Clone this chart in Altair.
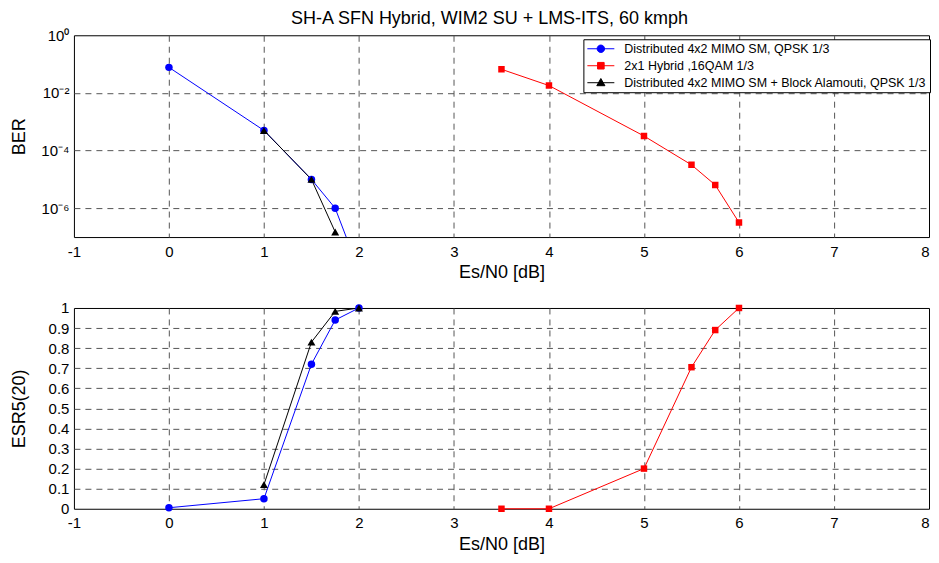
import altair as alt
import pandas as pd

# ---------------- data ----------------
names = [
    "Distributed 4x2 MIMO SM, QPSK 1/3",
    "2x1 Hybrid ,16QAM 1/3",
    "Distributed 4x2 MIMO SM + Block Alamouti, QPSK 1/3",
]
colors = ["#0000ff", "#ff0000", "#000000"]
marker_shapes = ["circle", "square", "triangle-up"]
marker_sizes = [56, 42, 64]

# BER panel
ber_snr_s1 = [0, 1, 1.5, 1.75, 2]
ber_s1 = [7.7e-2, 5.0e-4, 1.0e-5, 1.0e-6, 7.0e-9]
ber_snr_s2 = [3.5, 4, 5, 5.5, 5.75, 6]
ber_s2 = [6.6e-2, 1.8e-2, 3.2e-4, 3.2e-5, 6.4e-6, 3.2e-7]
ber_snr_s3 = [1, 1.5, 1.75]
ber_s3 = [5.0e-4, 1.0e-5, 1.5e-7]

# ESR5(20) panel
esr_snr_s1 = [0, 1, 1.5, 1.75, 2]
esr_s1 = [0.005, 0.05, 0.72, 0.94, 1.0]
esr_snr_s2 = [3.5, 4, 5, 5.5, 5.75, 6]
esr_s2 = [0.0, 0.0, 0.2, 0.705, 0.89, 1.0]
esr_snr_s3 = [1, 1.5, 1.75, 2]
esr_s3 = [0.12, 0.83, 0.983, 1.0]

x_domain = [-1, 8]
x_ticks = [-1, 0, 1, 2, 3, 4, 5, 6, 7, 8]
ber_domain = [1e-7, 1]
ber_ticks = [1e-6, 1e-4, 1e-2, 1]
ber_tick_labels = ["10⁻⁶", "10⁻⁴", "10⁻²", "10⁰"]
esr_domain = [0, 1]
esr_ticks = [0, 0.1, 0.2, 0.3, 0.4, 0.5, 0.6, 0.7, 0.8, 0.9, 1]

title_text = "SH-A SFN Hybrid, WIM2 SU + LMS-ITS, 60 kmph"
x_title = "Es/N0 [dB]"

# legend glyphs: a short line with the marker in the middle
# (unit = sqrt(symbolSize)/2 = 6 px, so the line is 27 px long)
legend_paths = [
    "M-2.25,0H2.25M0.62,0A0.62,0.62,0,1,1,-0.62,0A0.62,0.62,0,1,1,0.62,0Z",
    "M-2.25,0H2.25M-0.55,-0.55H0.55V0.55H-0.55Z",
    "M-2.25,0H2.25M0,-0.7L0.68,0.5H-0.68Z",
]

FONT = "Liberation Sans"
PLOT_W = 856


def long_frame(xs_list, ys_list):
    rows = []
    for name, xs, ys in zip(names, xs_list, ys_list):
        for xv, yv in zip(xs, ys):
            rows.append({"series": name, "snr": xv, "val": yv})
    return pd.DataFrame(rows)


ber_df = long_frame([ber_snr_s1, ber_snr_s2, ber_snr_s3], [ber_s1, ber_s2, ber_s3])
esr_df = long_frame([esr_snr_s1, esr_snr_s2, esr_snr_s3], [esr_s1, esr_s2, esr_s3])

grid_kw = dict(grid=True, gridColor="#555555", gridDash=[6, 5], gridWidth=1)


def edge_test(lo, hi, log=False):
    if log:
        return f"datum.value <= {lo * 1.01} || datum.value >= {hi * 0.99}"
    return f"datum.value <= {lo + 1e-9} || datum.value >= {hi - 1e-9}"


def panel(df, y_field_scale, y_axis, x_title_pad, clip, with_legend, height):
    x = alt.X(
        "snr:Q",
        scale=alt.Scale(domain=x_domain, nice=False, zero=False),
        axis=alt.Axis(
            values=x_ticks,
            labelExpr="replace(datum.label, '−', '-')",
            labelAlign={"condition": {"test": f"datum.value >= {x_domain[1]}", "value": "right"}, "value": "center"},
            title=x_title,
            labelPadding=7,
            titlePadding=x_title_pad,
            labelFlush=False,
            labelOverlap=False,
            gridOpacity={"condition": {"test": edge_test(x_domain[0], x_domain[1]), "value": 0}, "value": 1},
            **grid_kw,
        ),
    )
    y = alt.Y("val:Q", scale=y_field_scale, axis=y_axis)
    base = alt.Chart(df)

    def color_enc():
        if with_legend:
            return alt.Color("series:N", scale=alt.Scale(domain=names, range=colors))
        return alt.Color("series:N", scale=alt.Scale(domain=names, range=colors), legend=None)

    layers = []
    if with_legend:
        lg = alt.Legend(
            title=None,
            orient="none",
            legendX=PLOT_W - 346,
            legendY=4,
            padding=3,
            rowPadding=4,
            strokeColor="black",
            fillColor="white",
            cornerRadius=0,
            symbolSize=144,
            symbolOffset=8,
            symbolStrokeWidth=1,
            symbolOpacity=1,
            labelOffset=17,
            labelFont=FONT,
            labelFontSize=12.5,
            labelColor="black",
            labelLimit=500,
        )
        layers.append(
            base.transform_filter("false")
            .mark_point(filled=True, opacity=1)
            .encode(
                x=x,
                y=y,
                color=alt.Color("series:N", scale=alt.Scale(domain=names, range=colors), legend=lg),
                stroke=alt.Stroke("series:N", scale=alt.Scale(domain=names, range=colors), legend=lg),
                shape=alt.Shape("series:N", scale=alt.Scale(domain=names, range=legend_paths), legend=lg),
            )
        )
    layers.append(
        base.mark_line(clip=clip, strokeWidth=1).encode(x=x, y=y, color=color_enc())
    )
    for name, shp, sz in zip(names, marker_shapes, marker_sizes):
        layers.append(
            base.transform_filter(alt.datum.series == name)
            .mark_point(shape=shp, filled=True, opacity=1, size=sz, clip=clip)
            .encode(x=x, y=y, color=color_enc())
        )
    return alt.layer(*layers).properties(width=PLOT_W, height=height)


label_expr = " : ".join(
    f"datum.value >= {v * 0.5} ? '{t}'" for v, t in zip(reversed(ber_ticks), reversed(ber_tick_labels))
) + " : ''"

ber_axis = alt.Axis(
    values=ber_ticks,
    labelExpr=label_expr,
    title="BER",
    titleX=-49,
    titleBaseline="alphabetic",
    labelPadding=5,
    labelFlush=False,
    labelOverlap=False,
    gridOpacity={"condition": {"test": edge_test(ber_domain[0], ber_domain[1], log=True), "value": 0}, "value": 1},
    **grid_kw,
)
esr_axis = alt.Axis(
    values=esr_ticks,
    format="~g",
    title="ESR5(20)",
    titleX=-49,
    titleBaseline="alphabetic",
    labelPadding=5,
    labelFlush=False,
    labelOverlap=False,
    gridOpacity={"condition": {"test": edge_test(esr_domain[0], esr_domain[1]), "value": 0}, "value": 1},
    **grid_kw,
)

top = panel(
    ber_df,
    alt.Scale(type="log", domain=ber_domain, nice=False),
    ber_axis,
    4,
    True,
    True,
    202,
).properties(
    title=alt.TitleParams(
        text=title_text,
        font=FONT,
        fontSize=18,
        fontWeight="normal",
        color="black",
        anchor="middle",
        frame="group",
        offset=0,
        dx=-12,
    )
)

bottom = panel(
    esr_df,
    alt.Scale(domain=esr_domain, nice=False, zero=False),
    esr_axis,
    5,
    False,
    False,
    201,
)

chart = (
    alt.vconcat(top, bottom, spacing=71, bounds="flush")
    .resolve_legend(color="independent", stroke="independent", shape="independent")
    .properties(padding={"left": 2, "top": 1, "right": 0, "bottom": 0})
    .configure(background="white")
    .configure_view(stroke="black", strokeWidth=1)
    .configure_axis(
        domain=False,
        ticks=False,
        tickSize=0,
        labelFont=FONT,
        labelFontSize=15,
        labelColor="black",
        titleFont=FONT,
        titleFontSize=18,
        titleFontWeight="normal",
        titleColor="black",
    )
)

chart.save("out.html", embed_options={"renderer": "svg", "actions": False})
